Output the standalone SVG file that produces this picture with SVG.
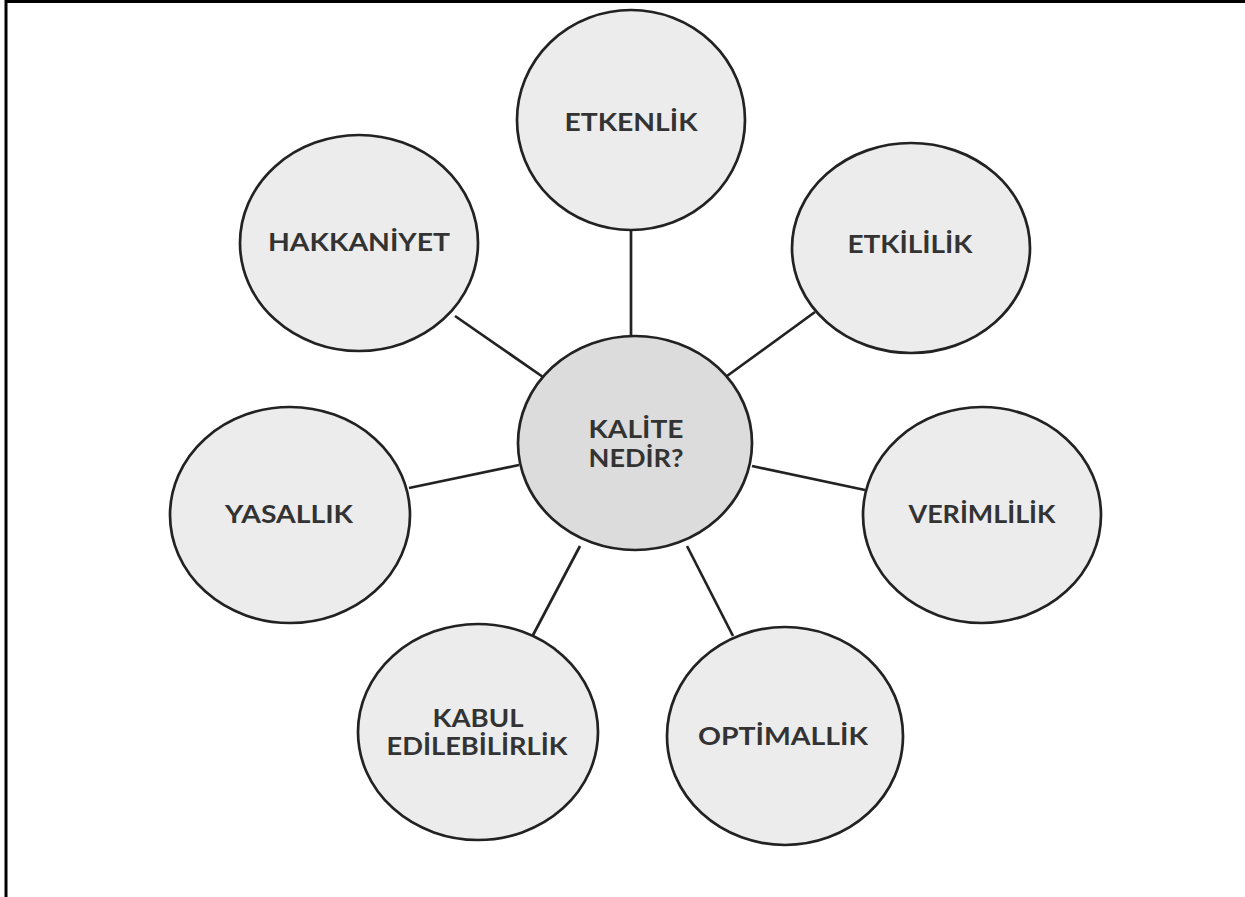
<svg xmlns="http://www.w3.org/2000/svg" width="1245" height="897" viewBox="0 0 1245 897">
<style>
.n{fill:#ececec;stroke:#222;stroke-width:2.7}
.c{fill:#dcdcdc;stroke:#222;stroke-width:2.7}
.t{font-family:Lato,"Open Sans",sans-serif;font-size:24px;font-weight:bold;fill:#333;text-anchor:middle}
.e{stroke:#222;stroke-width:2.7;fill:none}
</style>
<rect width="1245" height="897" fill="#fff"/>
<path d="M6,897 V1.5 H1245" fill="none" stroke="#000" stroke-width="3"/>
<g id="connectors">
<line class="e" x1="631" y1="230" x2="631" y2="337"/>
<line class="e" x1="455" y1="316" x2="543" y2="377"/>
<line class="e" x1="815" y1="312" x2="727" y2="376"/>
<line class="e" x1="409" y1="488" x2="519" y2="465"/>
<line class="e" x1="752" y1="466" x2="865" y2="490"/>
<line class="e" x1="580" y1="546" x2="532" y2="637"/>
<line class="e" x1="687" y1="546" x2="733" y2="636"/>
</g>
<g id="etkenlik"><ellipse class="n" cx="631" cy="120" rx="114" ry="110"/><text class="t" x="631" y="131" textLength="133" lengthAdjust="spacingAndGlyphs">ETKENLİK</text></g>
<g id="hakkaniyet"><ellipse class="n" cx="359" cy="243" rx="119" ry="108"/><text class="t" x="359" y="251" textLength="182" lengthAdjust="spacingAndGlyphs">HAKKANİYET</text></g>
<g id="etkililik"><ellipse class="n" cx="911" cy="248" rx="119" ry="105"/><text class="t" x="910" y="253" textLength="125" lengthAdjust="spacingAndGlyphs">ETKİLİLİK</text></g>
<g id="yasallik"><ellipse class="n" cx="290" cy="515" rx="120" ry="108"/><text class="t" x="289" y="523" textLength="128" lengthAdjust="spacingAndGlyphs">YASALLIK</text></g>
<g id="verimlilik"><ellipse class="n" cx="982" cy="515" rx="119" ry="108"/><text class="t" x="982" y="523" textLength="147" lengthAdjust="spacingAndGlyphs">VERİMLİLİK</text></g>
<g id="kabul"><ellipse class="n" cx="478" cy="732" rx="120" ry="108"/><text class="t" x="478" y="727" textLength="91" lengthAdjust="spacingAndGlyphs">KABUL</text><text class="t" x="477" y="755" textLength="181" lengthAdjust="spacingAndGlyphs">EDİLEBİLİRLİK</text></g>
<g id="optimallik"><ellipse class="n" cx="785" cy="736" rx="118" ry="109"/><text class="t" x="783" y="745" textLength="170" lengthAdjust="spacingAndGlyphs">OPTİMALLİK</text></g>
<g id="kalite"><ellipse class="c" cx="635" cy="443" rx="117" ry="107"/><text class="t" x="636" y="438" textLength="95" lengthAdjust="spacingAndGlyphs">KALİTE</text><text class="t" x="636" y="467" textLength="95" lengthAdjust="spacingAndGlyphs">NEDİR?</text></g>
</svg>
